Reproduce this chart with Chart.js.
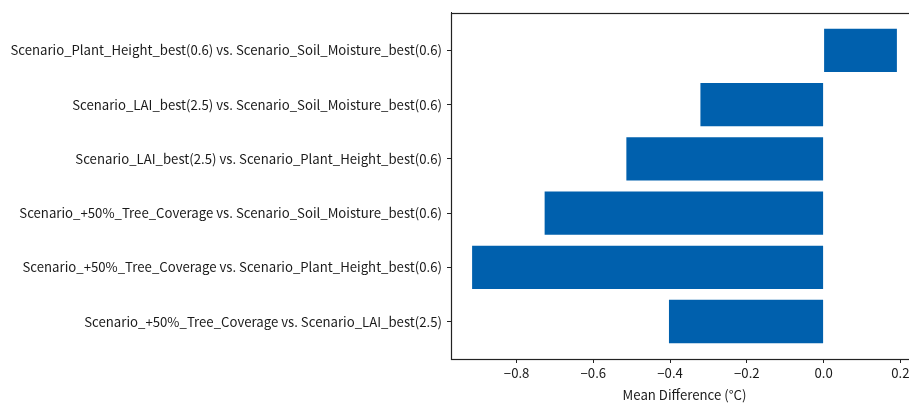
<!DOCTYPE html>
<html>
<head>
<meta charset="utf-8">
<script src="https://cdn.jsdelivr.net/npm/chart.js@4/dist/chart.umd.min.js"></script>
<style>
	html, body { margin: 0; padding: 0; background: #fff; overflow: hidden; }
	#wrap { position: relative; width: 930px; height: 403px; }
</style>
</head>
<body>
<div id="wrap"><canvas id="myChart"></canvas></div>
<script>
// Pairwise comparisons, top to bottom
const comparisons = [
	"Scenario_Plant_Height_best(0.6) vs. Scenario_Soil_Moisture_best(0.6)",
	"Scenario_LAI_best(2.5) vs. Scenario_Soil_Moisture_best(0.6)",
	"Scenario_LAI_best(2.5) vs. Scenario_Plant_Height_best(0.6)",
	"Scenario_+50%_Tree_Coverage vs. Scenario_Soil_Moisture_best(0.6)",
	"Scenario_+50%_Tree_Coverage vs. Scenario_Plant_Height_best(0.6)",
	"Scenario_+50%_Tree_Coverage vs. Scenario_LAI_best(2.5)",
];
const meanDiff = [0.191, -0.321, -0.514, -0.727, -0.916, -0.403];
const xTicks = [-0.8, -0.6, -0.4, -0.2, 0.0, 0.2];

const BAR_COLOR = "rgb(0, 96, 173)";
const AXIS_COLOR = "#222";
Chart.defaults.font.family = "'Noto Sans CJK SC', 'Noto Sans', sans-serif";
Chart.defaults.font.size = 13.2;
Chart.defaults.color = "#1a1a1a";

// frame around the plot area (top and right too)
const frame = {
	id: "frame",
	afterDraw(chart) {
		const a = chart.chartArea;
		const ctx = chart.ctx;
		ctx.save();
		ctx.strokeStyle = AXIS_COLOR;
		ctx.lineWidth = 1.2;
		ctx.strokeRect(Math.round(a.left) + 0.5, Math.round(a.top) + 0.5, Math.round(a.right - a.left), Math.round(a.bottom - a.top));
		ctx.restore();
	},
};

const ctx = document.getElementById("myChart").getContext("2d");
const chart = new Chart(ctx, {
	type: "bar",
	data: {
		datasets: [
			{
				data: meanDiff.map((v, i) => ({ x: v, y: i })),
				backgroundColor: BAR_COLOR,
				borderWidth: 0,
				barPercentage: 0.8,
				categoryPercentage: 1,
			},
		],
	},
	plugins: [frame],
	options: {
		indexAxis: "y",
		responsive: true,
		maintainAspectRatio: false,
		animation: false,
		layout: { padding: { top: 10, right: 12, bottom: 0, left: 0 } },
		plugins: {
			legend: { display: false },
			tooltip: { enabled: false },
		},
		scales: {
			x: {
				type: "linear",
				min: -0.971,
				max: 0.246,
				afterBuildTicks: (scale) => {
					scale.ticks = xTicks.map((v) => ({ value: v }));
				},
				afterFit: (scale) => {
					scale.height = 44;
				},
				ticks: {
					padding: 2,
					callback: (v) => (v < 0 ? "\u2212" : "") + Math.abs(v).toFixed(1),
				},
				grid: { drawOnChartArea: false, tickLength: 4, color: AXIS_COLOR },
				border: { color: AXIS_COLOR },
				title: {
					display: true,
					text: "Mean Difference (\u00b0C)",
					padding: { top: 0, bottom: 0 },
				},
			},
			y: {
				type: "linear",
				reverse: true,
				offset: false,
				min: -0.69,
				max: 5.69,
				afterBuildTicks: (scale) => {
					scale.ticks = comparisons.map((c, i) => ({ value: i }));
				},
				afterFit: (scale) => {
					scale.width = 451;
				},
				ticks: {
					padding: 5,
					callback: (v) => comparisons[v],
				},
				grid: { drawOnChartArea: false, offset: false, tickLength: 4, color: AXIS_COLOR },
				border: { color: AXIS_COLOR },
			},
		},
	},
});
</script>
</body>
</html>
